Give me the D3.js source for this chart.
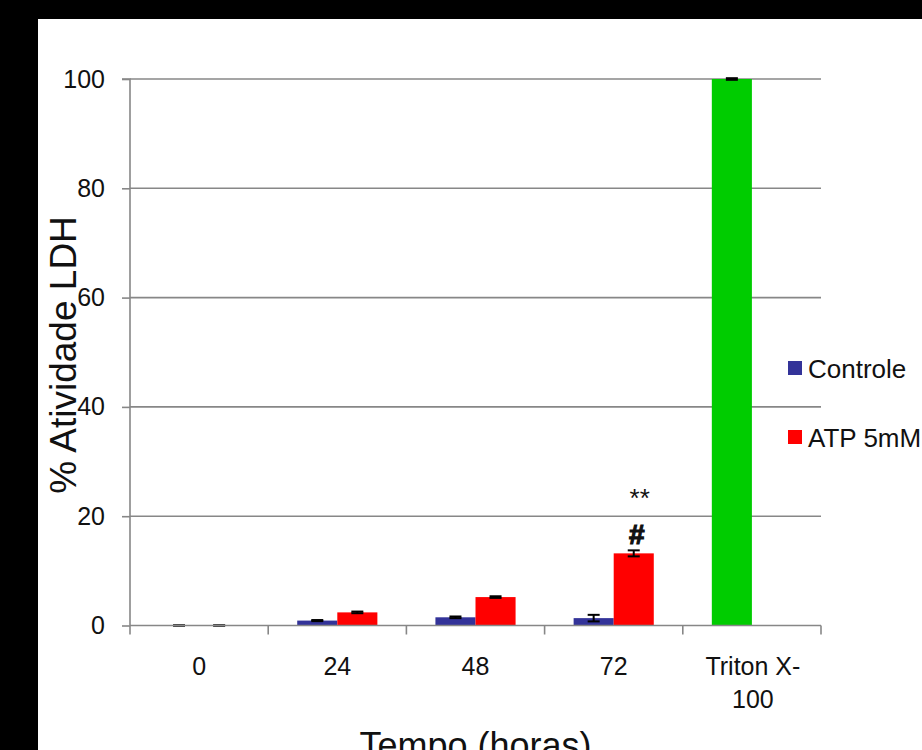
<!DOCTYPE html>
<html>
<head>
<meta charset="utf-8">
<script src="https://cdn.jsdelivr.net/npm/d3@7"></script>
<style>
  html, body { margin: 0; padding: 0; background: #000; }
  svg { display: block; }
  text { font-family: "Liberation Sans", Arial, sans-serif; fill: #111; }
</style>
</head>
<body>
<svg id="chart" width="922" height="750"></svg>
<script>
// LDH release (% of Triton X-100 lysis) over time
const categories = ["0", "24", "48", "72", "Triton X-100"];
const seriesNames = ["Controle", "ATP 5mM"];
const controleValues = [0, 0.9, 1.5, 1.35, 100];
const controleErrors = [0, 0.1, 0.15, 0.6, 0.15];
const atpValues = [0, 2.4, 5.2, 13.2, null];
const atpErrors = [0, 0.15, 0.15, 0.55, null];
const seriesColors = ["#333399", "#ff0000"];
const pointColorOverride = { "Triton X-100": "#00cc00" };
const yTicks = [0, 20, 40, 60, 80, 100];

const svg = d3.select("#chart");

// white page area inside the dark frame
svg.append("rect").attr("x", 38).attr("y", 19).attr("width", 922 - 38).attr("height", 750 - 19).attr("fill", "#fff");

const plotLeft = 130, plotRight = 821, plotTop = 79, plotBottom = 625.5;
const y = d3.scaleLinear().domain([0, 100]).range([plotBottom, plotTop]);
const x0 = d3.scaleBand().domain(categories).range([plotLeft, plotRight]).padding(0);
const bw = x0.bandwidth();
const x1 = d3.scaleBand().domain(seriesNames).range([bw * 0.21, bw * 0.79]).padding(0);

const gridColor = "#878787";

// horizontal gridlines
svg.append("g").selectAll("line").data(yTicks.filter(t => t > 0)).join("line")
  .attr("x1", plotLeft).attr("x2", plotRight)
  .attr("y1", d => y(d)).attr("y2", d => y(d))
  .attr("stroke", gridColor).attr("stroke-width", 1.6);

// bars
const rows = [];
categories.forEach((c, i) => {
  [[controleValues, controleErrors], [atpValues, atpErrors]].forEach(([vals, errs], s) => {
    if (vals[i] === null) return;
    const color = (s === 0 && pointColorOverride[c]) ? pointColorOverride[c] : seriesColors[s];
    rows.push({ cat: c, series: seriesNames[s], value: vals[i], err: errs[i], color });
  });
});

const barG = svg.append("g");
barG.selectAll("rect").data(rows).join("rect")
  .attr("x", d => x0(d.cat) + x1(d.series))
  .attr("width", x1.bandwidth())
  .attr("y", d => y(d.value))
  .attr("height", d => y(0) - y(d.value))
  .attr("fill", d => d.color);

// error bars
const capHalf = 6;
const errG = svg.append("g").attr("stroke", "#000").attr("stroke-width", 2);
rows.forEach(d => {
  const cx = x0(d.cat) + x1(d.series) + x1.bandwidth() / 2;
  const yTop = y(d.value + d.err), yLo = y(d.value - d.err);
  errG.append("line").attr("x1", cx).attr("x2", cx).attr("y1", yTop).attr("y2", yLo);
  errG.append("line").attr("x1", cx - capHalf).attr("x2", cx + capHalf).attr("y1", yTop).attr("y2", yTop);
  errG.append("line").attr("x1", cx - capHalf).attr("x2", cx + capHalf).attr("y1", yLo).attr("y2", yLo);
});

// y axis
const yAxis = d3.axisLeft(y).tickValues(yTicks).tickSize(8).tickPadding(17).tickFormat(d3.format("d"));
const yg = svg.append("g").attr("transform", `translate(${plotLeft},0)`).call(yAxis);
yg.select(".domain").attr("stroke", gridColor).attr("stroke-width", 1.6).attr("d", `M-8,${plotTop}H0V${plotBottom}`);
yg.selectAll(".tick line").attr("stroke", gridColor).attr("stroke-width", 1.6);
yg.selectAll(".tick text").attr("font-size", 25).attr("font-family", "Liberation Sans, Arial, sans-serif").attr("fill", "#111");

// x axis: baseline, boundary ticks and category labels
const xg = svg.append("g");
xg.append("line").attr("x1", plotLeft).attr("x2", plotRight).attr("y1", plotBottom).attr("y2", plotBottom)
  .attr("stroke", gridColor).attr("stroke-width", 1.6);
const boundaries = categories.map(c => x0(c)).concat([plotRight]);
xg.selectAll("line.tk").data(boundaries).join("line").attr("class", "tk")
  .attr("x1", d => d).attr("x2", d => d).attr("y1", plotBottom).attr("y2", plotBottom + 9)
  .attr("stroke", gridColor).attr("stroke-width", 1.6);
const labelLines = { "Triton X-100": ["Triton X-", "100"] };
categories.forEach(c => {
  const lines = labelLines[c] || [c];
  const t = xg.append("text").attr("x", x0(c) + bw / 2).attr("y", 675)
    .attr("text-anchor", "middle").attr("font-size", 25);
  lines.forEach((l, k) => t.append("tspan").attr("x", x0(c) + bw / 2 + (lines.length > 1 ? 1 : 0)).attr("dy", k ? 33 : 0).text(l));
});

// axis titles
svg.append("text").attr("x", (plotLeft + plotRight) / 2).attr("y", 758).attr("text-anchor", "middle")
  .attr("font-size", 36).text("Tempo (horas)");
svg.append("text").attr("transform", "translate(76,355) rotate(-90)").attr("text-anchor", "middle")
  .attr("font-size", 37).text("% Atividade LDH");

// significance marks above the 72 h ATP bar
const markX = x0("72") + x1("ATP 5mM") + x1.bandwidth() / 2;
svg.append("text").attr("x", markX + 3).attr("y", 544).attr("text-anchor", "middle")
  .attr("font-size", 28).attr("font-weight", "bold")
  .attr("stroke", "#111").attr("stroke-width", 1.2).text("#");
svg.append("text").attr("x", markX + 6).attr("y", 507).attr("text-anchor", "middle")
  .attr("font-size", 26).text("**");

// legend
const legend = svg.append("g").attr("transform", "translate(788,361)");
seriesNames.forEach((name, i) => {
  const g = legend.append("g").attr("transform", `translate(0,${i * 69})`);
  g.append("rect").attr("width", 14).attr("height", 14).attr("fill", seriesColors[i]);
  g.append("text").attr("x", 20).attr("y", 17).attr("font-size", 26).text(name);
});
</script>
</body>
</html>
